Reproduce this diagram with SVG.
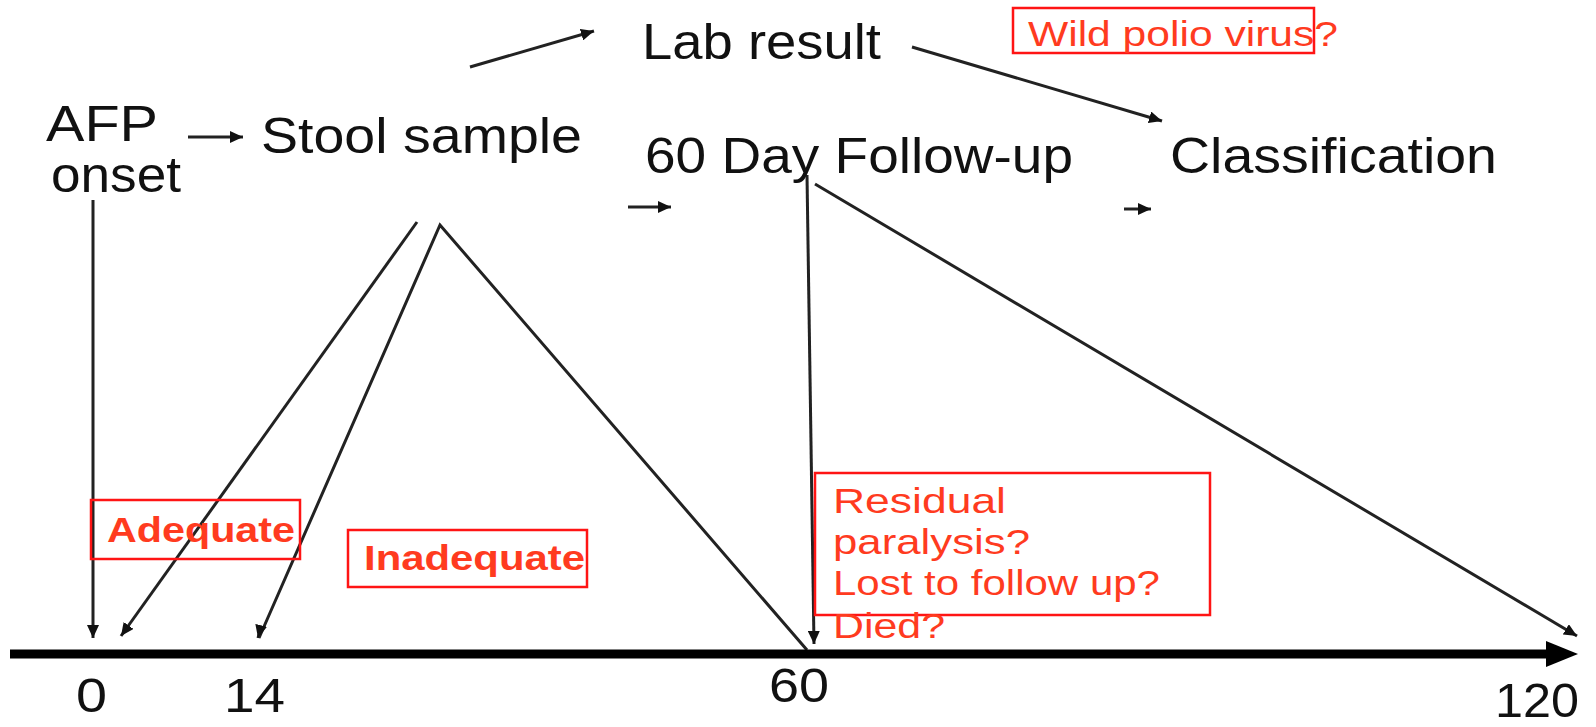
<svg xmlns="http://www.w3.org/2000/svg" width="1596" height="727" viewBox="0 0 1596 727">
<style>
.t{font-family:"Liberation Sans",Arial,sans-serif;fill:#111}
.big{font-size:50px}
.num{font-size:48px}
.r{font-family:"Liberation Sans",Arial,sans-serif;fill:#ff3b1f;font-size:35px}
.rb{font-weight:bold}
.box{fill:none;stroke:#ff1414;stroke-width:2.5}
.c{stroke:#222;stroke-width:3;fill:none}
</style>
<defs>
<marker id="ah" markerUnits="userSpaceOnUse" markerWidth="14" markerHeight="12" refX="13" refY="6" orient="auto">
<path d="M0,0 L13,6 L0,12 z" fill="#111"/>
</marker>
<marker id="big" markerUnits="userSpaceOnUse" markerWidth="32" markerHeight="26" refX="2" refY="13" orient="auto">
<path d="M0,0 L32,13 L0,26 z" fill="#000"/>
</marker>
</defs>
<rect width="1596" height="727" fill="#fff"/>
<g id="connectors">
<line class="c" x1="188" y1="137" x2="243" y2="137" marker-end="url(#ah)"/>
<line class="c" x1="470" y1="67" x2="594" y2="31" marker-end="url(#ah)"/>
<line class="c" x1="912" y1="47" x2="1162" y2="121" marker-end="url(#ah)"/>
<line class="c" x1="628" y1="207" x2="671" y2="207" marker-end="url(#ah)"/>
<line class="c" x1="1124" y1="209" x2="1151" y2="209" marker-end="url(#ah)"/>
<line class="c" x1="93" y1="200" x2="93" y2="638" marker-end="url(#ah)"/>
<line class="c" x1="417" y1="222" x2="121" y2="636" marker-end="url(#ah)"/>
<polyline class="c" points="259,638 440,225 807,650"/>
<line class="c" x1="259" y1="634" x2="258" y2="638" marker-end="url(#ah)"/>
<line class="c" x1="807" y1="175" x2="814" y2="644" marker-end="url(#ah)"/>
<line class="c" x1="815" y1="184" x2="1577" y2="636" marker-end="url(#ah)"/>
<line x1="10" y1="654" x2="1548" y2="654" stroke="#000" stroke-width="9" marker-end="url(#big)"/>
</g>
<g id="afp-onset"><text class="t big" x="46" y="141" textLength="112" lengthAdjust="spacingAndGlyphs">AFP</text><text class="t big" x="51" y="192" textLength="130" lengthAdjust="spacingAndGlyphs">onset</text></g>
<g id="stool-sample"><text class="t big" x="261" y="153" textLength="321" lengthAdjust="spacingAndGlyphs">Stool sample</text></g>
<g id="lab-result"><text class="t big" x="642" y="59" textLength="239" lengthAdjust="spacingAndGlyphs">Lab result</text></g>
<g id="follow-up"><text class="t big" x="645" y="173" textLength="428" lengthAdjust="spacingAndGlyphs">60 Day Follow-up</text></g>
<g id="classification"><text class="t big" x="1170" y="173" textLength="327" lengthAdjust="spacingAndGlyphs">Classification</text></g>
<g id="wild-polio"><rect class="box" x="1013" y="8" width="301" height="45"/><text class="r" x="1028" y="46" textLength="310" lengthAdjust="spacingAndGlyphs">Wild polio virus?</text></g>
<g id="adequate"><rect class="box" x="91" y="500" width="209" height="59"/><text class="r rb" x="107" y="542" textLength="188" lengthAdjust="spacingAndGlyphs">Adequate</text></g>
<g id="inadequate"><rect class="box" x="348" y="530" width="239" height="57"/><text class="r rb" x="364" y="570" textLength="221" lengthAdjust="spacingAndGlyphs">Inadequate</text></g>
<g id="outcomes"><rect class="box" x="815" y="473" width="395" height="142"/>
<text class="r" x="833" y="513" textLength="173" lengthAdjust="spacingAndGlyphs">Residual</text>
<text class="r" x="833" y="554" textLength="197" lengthAdjust="spacingAndGlyphs">paralysis?</text>
<text class="r" x="833" y="595" textLength="327" lengthAdjust="spacingAndGlyphs">Lost to follow up?</text>
<text class="r" x="833" y="638" textLength="112" lengthAdjust="spacingAndGlyphs">Died?</text></g>
<g id="axis-labels">
<text class="t num" x="76" y="712" textLength="31" lengthAdjust="spacingAndGlyphs">0</text>
<text class="t num" x="224" y="712" textLength="61" lengthAdjust="spacingAndGlyphs">14</text>
<text class="t num" x="769" y="702" textLength="60" lengthAdjust="spacingAndGlyphs">60</text>
<text class="t num" x="1495" y="717" textLength="84" lengthAdjust="spacingAndGlyphs">120</text>
</g>
</svg>
